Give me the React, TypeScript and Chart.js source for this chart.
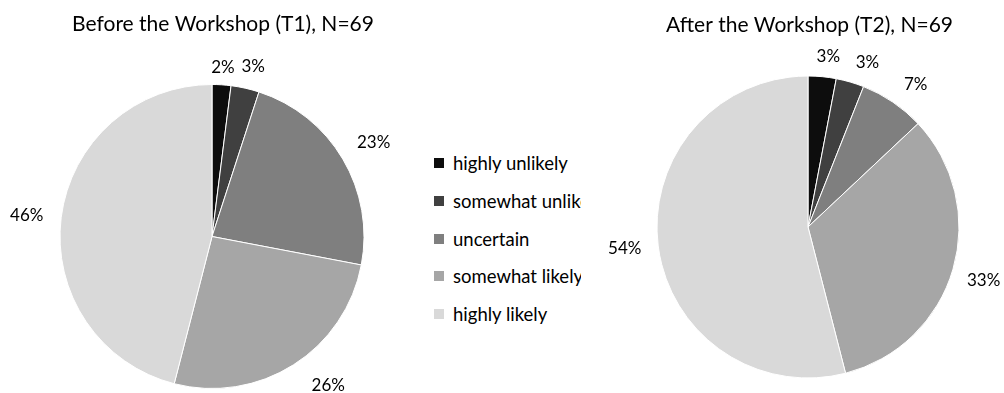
import React, { useEffect, useRef } from "react";
import { Chart, registerables } from "chart.js";

Chart.register(...registerables);

// Survey answers: likelihood categories and percentage share per survey round
const categories = ["highly unlikely", "somewhat unlikely", "uncertain", "somewhat likely", "highly likely"];
const beforeValues = [2, 3, 23, 26, 46];
const afterValues = [3, 3, 7, 33, 54];
const beforeTitle = "Before the Workshop (T1), N=69";
const afterTitle = "After the Workshop (T2), N=69";

// Greyscale fills, darkest for the least likely answer
const sliceColors = ["#0d0d0d", "#404040", "#7f7f7f", "#a6a6a6", "#d9d9d9"];

const FONT = "Lato, 'Open Sans', sans-serif";
const TITLE_SIZE = 21;
const LABEL_SIZE = 17;
const LEGEND_SIZE = 18.5;

type Nudge = [number, number];

// Draws the percentage labels just outside each slice, plus the chart heading
const pieLabels = {
  id: "pieLabels",
  afterDraw(chart: any, _args: any, opts: any) {
    const ctx: CanvasRenderingContext2D = chart.ctx;
    const meta = chart.getDatasetMeta(0);
    const values = chart.data.datasets[0].data as number[];
    ctx.save();
    ctx.fillStyle = "#000";
    ctx.textAlign = "center";
    ctx.textBaseline = "middle";
    ctx.font = `${opts.labelSize}px ${FONT}`;
    meta.data.forEach((arc: any, i: number) => {
      const { x, y, startAngle, endAngle, outerRadius } = arc.getProps(
        ["x", "y", "startAngle", "endAngle", "outerRadius"],
        true
      );
      const mid = (startAngle + endAngle) / 2;
      const dx = Math.cos(mid);
      const dy = Math.sin(mid);
      const text = `${values[i]}%`;
      const w = ctx.measureText(text).width;
      const h = opts.labelSize * 0.8;
      const [nx, ny] = (opts.nudges[i] || [0, 0]) as Nudge;
      const r = outerRadius + opts.gap;
      ctx.fillText(text, x + r * dx + (dx * w) / 2 + nx, y + r * dy + (dy * h) / 2 + ny);
    });
    ctx.font = `${opts.titleSize}px ${FONT}`;
    ctx.fillText(opts.title, opts.titleX, opts.titleY);
    ctx.restore();
  },
};

interface PieProps {
  values: number[];
  title: string;
  left: number;
  width: number;
  height: number;
  radius: number;
  padding: { left: number; right: number; top: number; bottom: number };
  titleX: number;
  titleY: number;
  nudges: Nudge[];
}

function SurveyPie(props: PieProps) {
  const ref = useRef<HTMLCanvasElement | null>(null);

  useEffect(() => {
    if (!ref.current) return;
    const chart = new Chart(ref.current, {
      type: "pie",
      data: {
        labels: categories,
        datasets: [
          {
            data: props.values,
            backgroundColor: sliceColors,
            borderColor: "#ffffff",
            borderWidth: 1,
            radius: props.radius,
          } as any,
        ],
      },
      options: {
        animation: false,
        responsive: false,
        maintainAspectRatio: false,
        layout: { padding: props.padding },
        plugins: {
          legend: { display: false },
          tooltip: { enabled: false },
          title: { display: false },
          pieLabels: {
            gap: 11,
            labelSize: LABEL_SIZE,
            titleSize: TITLE_SIZE,
            title: props.title,
            titleX: props.titleX,
            titleY: props.titleY,
            nudges: props.nudges,
          },
        } as any,
      },
      plugins: [pieLabels],
    });
    return () => chart.destroy();
  }, []);

  return (
    <canvas
      ref={ref}
      width={props.width}
      height={props.height}
      style={{ position: "absolute", left: props.left, top: 0, width: props.width, height: props.height }}
    />
  );
}

function Legend() {
  const rowH = 37.75;
  return (
    <div
      style={{
        position: "absolute",
        left: 434,
        top: 163 - rowH / 2,
        width: 147,
        overflow: "hidden",
        whiteSpace: "nowrap",
        fontFamily: FONT,
        fontSize: LEGEND_SIZE,
        color: "#000",
      }}
    >
      {categories.map((c, i) => (
        <div key={c} style={{ height: rowH, display: "flex", alignItems: "center" }}>
          <span
            style={{
              display: "inline-block",
              width: 10,
              height: 10,
              background: sliceColors[i],
              marginRight: 9,
              flex: "0 0 auto",
            }}
          />
          <span>{c}</span>
        </div>
      ))}
    </div>
  );
}

export default function App() {
  return (
    <div
      style={{
        position: "absolute",
        left: 0,
        top: 0,
        width: 1004,
        height: 393,
        background: "#fff",
        overflow: "hidden",
      }}
    >
      <SurveyPie
        values={beforeValues}
        title={beforeTitle}
        left={0}
        width={430}
        height={393}
        radius={152}
        padding={{ left: 60, right: 66, top: 84.5, bottom: 4.5 }}
        titleX={223}
        titleY={24}
        nudges={[[0, 0], [3, -4], [7, -8], [20, 6], [-7, 0]]}
      />
      <Legend />
      <SurveyPie
        values={afterValues}
        title={afterTitle}
        left={590}
        width={414}
        height={393}
        radius={151}
        padding={{ left: 67, right: 45, top: 76, bottom: 15 }}
        titleX={219.5}
        titleY={25}
        nudges={[[4, -2], [11, -2], [10, -3], [4, 6], [-6, 0]]}
      />
    </div>
  );
}
